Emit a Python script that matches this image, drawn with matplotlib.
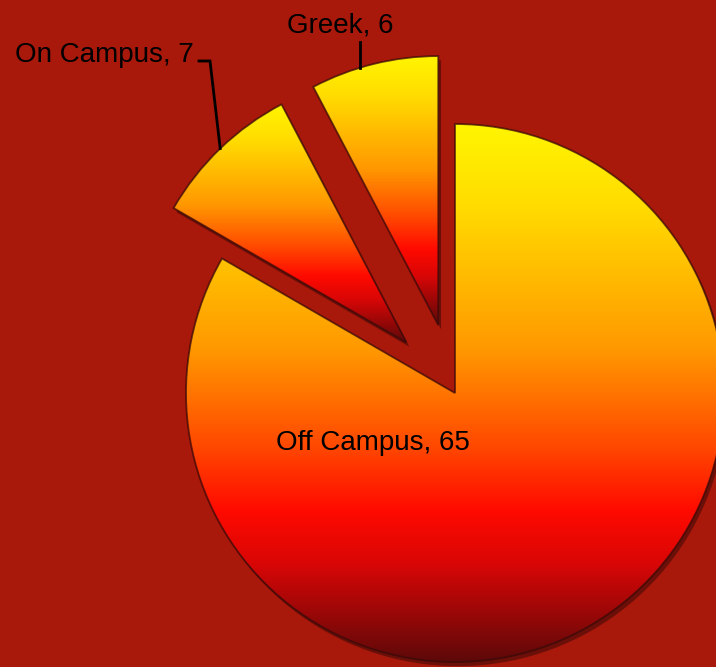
import numpy as np
import matplotlib.pyplot as plt
import matplotlib.patheffects as pe
from matplotlib.colors import LinearSegmentedColormap
from matplotlib.patches import PathPatch

# data
categories = ['Off Campus', 'On Campus', 'Greek']
counts = [65, 7, 6]
explode = [0.0, 0.26, 0.26]

W, H = 716, 667
BG = '#A8180B'
CX, CY, R = 455, 393, 269   # pie centre / radius in pixels

plt.rcParams['font.family'] = ['Liberation Sans', 'DejaVu Sans']


def px(x, y):
    """pixel (from top-left) -> data coords of the pie"""
    return (x - CX) / R, (CY - y) / R


fig = plt.figure(figsize=(W / 100, H / 100), dpi=100, facecolor=BG)
ax = fig.add_axes([0, 0, 1, 1])
ax.set_facecolor(BG)

wedges, _ = ax.pie(counts, explode=explode, startangle=90, counterclock=False,
                   radius=1.0, wedgeprops=dict(linewidth=0))

# yellow -> orange -> red -> dark red, top to bottom of each slice
grad_cmap = LinearSegmentedColormap.from_list('hot_slice', [
    (0.00, '#FFF500'), (0.15, '#FFDC00'), (0.42, '#FF9800'),
    (0.60, '#FF4800'), (0.72, '#FF0A00'), (0.82, '#D80606'),
    (1.00, '#5E0909')])
grad = np.linspace(0, 1, 256).reshape(-1, 1)

for w in wedges:
    w.set_facecolor('#000000')
    w.set_path_effects([pe.SimplePatchShadow(offset=(2, -3), shadow_rgbFace='#3A0806',
                                             alpha=0.55)])
    w.set_zorder(1)
    ext = w.get_path().get_extents()
    im = ax.imshow(grad, cmap=grad_cmap, origin='upper', aspect='auto',
                   extent=[ext.x0, ext.x1, ext.y0, ext.y1], zorder=2,
                   interpolation='bilinear')
    im.set_clip_path(w)
    ax.add_patch(PathPatch(w.get_path(), facecolor='none', edgecolor='#3A0A08',
                           linewidth=1.3, alpha=0.75, zorder=3))

ax.set_aspect('auto')
ax.set_xlim(-CX / R, (W - CX) / R)
ax.set_ylim(-(H - CY) / R, CY / R)
ax.axis('off')

labels = [f'{c}, {v}' for c, v in zip(categories, counts)]
fs = 20

# Off Campus label sits inside its slice
ax.text(*px(373, 450), labels[0], ha='center', va='baseline', fontsize=fs, zorder=5)

# On Campus label with elbow leader to the middle of its arc
w = wedges[1]
mid = np.deg2rad((w.theta1 + w.theta2) / 2)
anchor = (w.center[0] + w.r * np.cos(mid), w.center[1] + w.r * np.sin(mid))
ax.text(*px(194, 62), labels[1], ha='right', va='baseline', fontsize=fs, zorder=5)
p0, p1 = px(199, 61), px(210, 61)
ax.plot([p0[0], p1[0], anchor[0]], [p0[1], p1[1], anchor[1]], color='black',
        lw=2, zorder=4, solid_joinstyle='miter')

# Greek label with a vertical leader down to its arc
w = wedges[2]
lx, ly = px(360, 42)
ay = w.center[1] + np.sqrt(w.r ** 2 - (lx - w.center[0]) ** 2)
ax.text(*px(340, 33), labels[2], ha='center', va='baseline', fontsize=fs, zorder=5)
ax.plot([lx, lx], [ly, ay], color='black', lw=2, zorder=4)

fig.savefig('out.png', dpi=100, facecolor=BG)
